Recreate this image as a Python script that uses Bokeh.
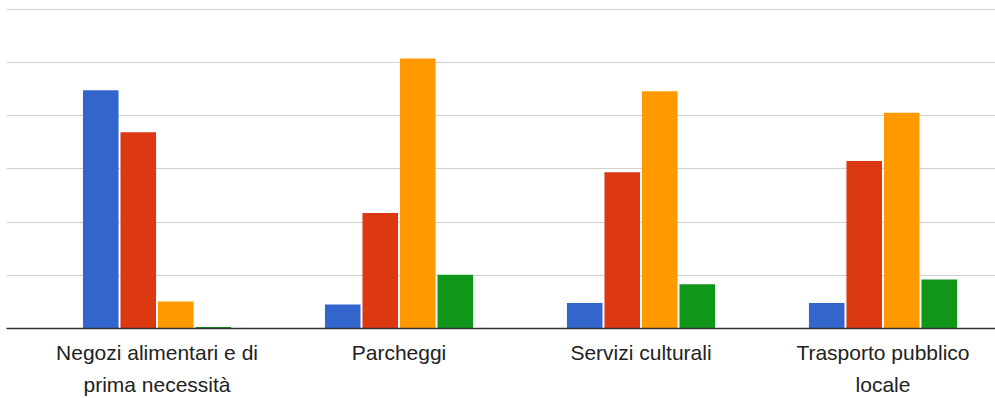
from bokeh.plotting import figure
from bokeh.models import Range1d, FixedTicker, ColumnDataSource
from bokeh.embed import file_html
from bokeh.resources import INLINE

categories = [
    "Negozi alimentari e di\nprima necessità",
    "Parcheggi",
    "Servizi culturali",
    "Trasporto pubblico\nlocale",
]
series_names = ["A", "B", "C", "D"]
series_colors = ["#3366cc", "#dc3912", "#ff9900", "#109618"]
values = {
    "A": [44.8, 4.5, 4.8, 4.8],
    "B": [36.9, 21.7, 29.4, 31.5],
    "C": [5.1, 50.8, 44.6, 40.6],
    "D": [0.3, 10.1, 8.3, 9.2],
}
y_ticks = [0, 10, 20, 30, 40, 50, 60]

p = figure(
    width=995, height=398,
    output_backend="svg", toolbar_location=None,
    x_range=Range1d(-0.622, 3.465), y_range=Range1d(0, 60.56),
    min_border_left=6, min_border_right=0, min_border_top=6, min_border_bottom=69,
)
p.outline_line_color = None

step = 0.155
bar_w = 0.147
xs = list(range(len(categories)))
for i, (name, color) in enumerate(zip(series_names, series_colors)):
    off = (i - 1.5) * step
    src = ColumnDataSource(dict(x=[x + off for x in xs], top=values[name]))
    p.vbar(x="x", top="top", bottom=0, width=bar_w, source=src,
           fill_color=color, line_color=None)

p.yaxis.visible = False
p.ygrid.ticker = FixedTicker(ticks=y_ticks)
p.ygrid.grid_line_color = "#d0d0d0"
p.ygrid.grid_line_width = 1
p.xgrid.visible = False

ax = p.xaxis[0]
ax.ticker = FixedTicker(ticks=xs)
ax.major_label_overrides = {i: c for i, c in enumerate(categories)}
ax.axis_line_color = "#333333"
ax.axis_line_width = 1.5
ax.major_tick_line_color = None
ax.minor_tick_line_color = None
ax.major_tick_out = 0
ax.major_tick_in = 0
ax.major_label_standoff = 12
ax.major_label_text_font = "Liberation Sans"
ax.major_label_text_font_size = "21px"
ax.major_label_text_color = "#222222"
ax.major_label_text_line_height = 1.4

open("out.html", "w").write(file_html(p, INLINE))
